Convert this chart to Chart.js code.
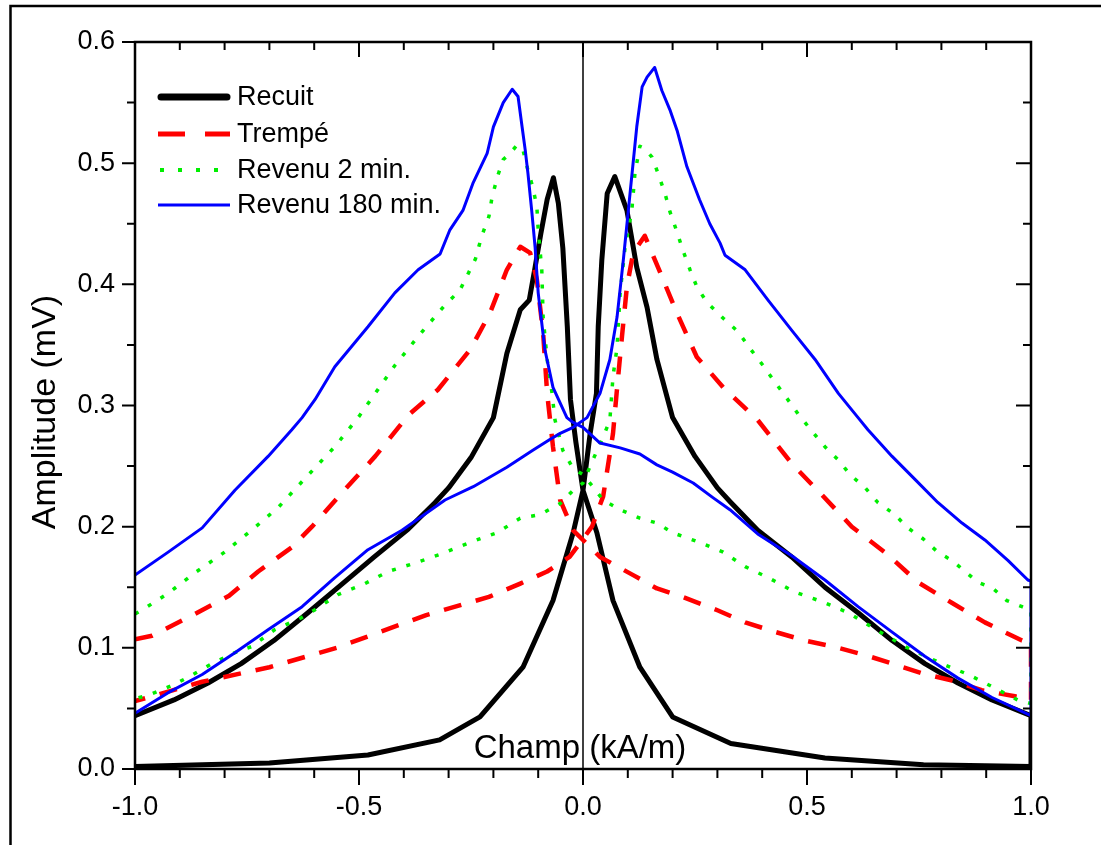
<!DOCTYPE html>
<html><head><meta charset="utf-8">
<script src="https://cdn.jsdelivr.net/npm/chart.js@4.4.0/dist/chart.umd.min.js"></script>
<style>html,body{margin:0;padding:0;background:#fff;}#wrap{position:relative;width:1101px;height:845px;}</style>
</head><body><div id="wrap"><canvas id="c" width="1101" height="845"></canvas></div>
<script>
// ---- DATA ----
const seriesNames = ["Recuit", "Trempé", "Revenu 2 min.", "Revenu 180 min."];
const xMajorTicks = [-1, -0.5, 0, 0.5, 1];
const xMinorTicks = [-0.9, -0.8, -0.7, -0.6, -0.4, -0.3, -0.2, -0.1, 0.1, 0.2, 0.3, 0.4, 0.6, 0.7, 0.8, 0.9];
const yMajorTicks = [0, 0.1, 0.2, 0.3, 0.4, 0.5, 0.6];
const yMinorTicks = [0.05, 0.15, 0.25, 0.35, 0.45, 0.55];
const xTitle = "Champ (kA/m)";
const yTitle = "Amplitude (mV)";

// Each series: branch with peak on negative side (A), then branch with peak on positive side (B)
const recuitA = [[-1,0.044],[-0.913,0.057],[-0.837,0.071],[-0.763,0.087],[-0.69,0.106],[-0.614,0.129],[-0.54,0.152],[-0.466,0.175],[-0.39,0.198],[-0.33,0.22],[-0.3,0.232],[-0.25,0.257],[-0.2,0.29],[-0.17,0.343],[-0.14,0.379],[-0.12,0.387],[-0.107,0.414],[-0.094,0.442],[-0.08,0.47],[-0.066,0.488],[-0.055,0.467],[-0.045,0.43],[-0.035,0.365],[-0.028,0.305],[-0.016,0.27],[0,0.23],[0.031,0.195],[0.067,0.139],[0.127,0.084],[0.2,0.043],[0.33,0.021],[0.54,0.009],[0.76,0.0035],[1,0.002]];
const recuitB = [[1,0.044],[0.913,0.057],[0.837,0.071],[0.763,0.087],[0.69,0.106],[0.614,0.129],[0.54,0.15],[0.466,0.175],[0.39,0.197],[0.33,0.22],[0.3,0.232],[0.25,0.258],[0.2,0.29],[0.165,0.338],[0.143,0.381],[0.12,0.414],[0.098,0.461],[0.071,0.489],[0.054,0.475],[0.042,0.42],[0.034,0.365],[0.03,0.31],[0.016,0.277],[0,0.23],[-0.022,0.195],[-0.067,0.139],[-0.134,0.084],[-0.23,0.043],[-0.32,0.024],[-0.48,0.0115],[-0.7,0.005],[-1,0.002]];

const trempeA = [[-1,0.107],[-0.962,0.11],[-0.866,0.128],[-0.79,0.143],[-0.725,0.163],[-0.65,0.183],[-0.605,0.2],[-0.538,0.228],[-0.464,0.258],[-0.39,0.292],[-0.324,0.313],[-0.252,0.346],[-0.208,0.376],[-0.17,0.412],[-0.14,0.431],[-0.118,0.426],[-0.103,0.404],[-0.089,0.36],[-0.08,0.31],[-0.067,0.266],[-0.051,0.222],[-0.022,0.197],[0,0.189],[0.038,0.175],[0.112,0.16],[0.165,0.149],[0.223,0.142],[0.3,0.131],[0.362,0.121],[0.43,0.113],[0.496,0.106],[0.57,0.1],[0.63,0.094],[0.69,0.087],[0.757,0.079],[0.824,0.073],[0.89,0.065],[0.964,0.06],[1,0.057]];
const trempeB = [[1,0.104],[0.98,0.106],[0.897,0.121],[0.824,0.137],[0.748,0.154],[0.68,0.177],[0.6,0.2],[0.534,0.226],[0.466,0.252],[0.39,0.288],[0.313,0.315],[0.254,0.34],[0.21,0.376],[0.172,0.41],[0.138,0.44],[0.112,0.426],[0.098,0.398],[0.087,0.357],[0.075,0.31],[0.067,0.277],[0.045,0.225],[0.02,0.2],[0,0.19],[-0.03,0.175],[-0.08,0.163],[-0.14,0.153],[-0.21,0.142],[-0.35,0.127],[-0.55,0.1],[-0.7,0.084],[-0.85,0.072],[-1,0.056]];

const revenu2A = [[-1,0.128],[-0.985,0.131],[-0.926,0.145],[-0.866,0.162],[-0.8,0.179],[-0.74,0.197],[-0.68,0.216],[-0.62,0.24],[-0.554,0.266],[-0.5,0.291],[-0.42,0.333],[-0.368,0.357],[-0.308,0.383],[-0.275,0.395],[-0.24,0.421],[-0.226,0.44],[-0.21,0.456],[-0.203,0.472],[-0.19,0.49],[-0.178,0.503],[-0.163,0.508],[-0.147,0.515],[-0.134,0.511],[-0.125,0.497],[-0.112,0.48],[-0.103,0.464],[-0.1,0.445],[-0.092,0.412],[-0.089,0.373],[-0.08,0.338],[-0.069,0.31],[-0.0625,0.288],[-0.045,0.263],[-0.022,0.248],[0,0.243],[0.022,0.233],[0.045,0.222],[0.083,0.214],[0.127,0.207],[0.165,0.203],[0.2,0.195],[0.26,0.187],[0.313,0.179],[0.362,0.167],[0.413,0.158],[0.473,0.146],[0.534,0.138],[0.592,0.129],[0.645,0.117],[0.719,0.101],[0.8,0.087],[0.86,0.078],[0.913,0.068],[0.97,0.057],[1,0.054]];
const revenu2B = [[1,0.131],[0.98,0.134],[0.946,0.139],[0.915,0.149],[0.882,0.154],[0.853,0.163],[0.824,0.172],[0.792,0.179],[0.759,0.19],[0.725,0.199],[0.696,0.21],[0.658,0.22],[0.63,0.232],[0.596,0.243],[0.57,0.255],[0.54,0.266],[0.513,0.278],[0.48,0.293],[0.455,0.306],[0.429,0.319],[0.402,0.333],[0.373,0.347],[0.346,0.361],[0.313,0.372],[0.277,0.385],[0.254,0.398],[0.239,0.412],[0.223,0.428],[0.21,0.443],[0.194,0.46],[0.183,0.475],[0.167,0.492],[0.154,0.505],[0.138,0.512],[0.127,0.514],[0.116,0.492],[0.109,0.461],[0.094,0.431],[0.083,0.393],[0.076,0.348],[0.067,0.324],[0.06,0.288],[0.045,0.274],[0.022,0.255],[0,0.236],[-0.022,0.23],[-0.051,0.219],[-0.096,0.21],[-0.14,0.207],[-0.192,0.195],[-0.245,0.188],[-0.32,0.177],[-0.375,0.17],[-0.435,0.163],[-0.487,0.153],[-0.547,0.144],[-0.6,0.131],[-0.628,0.125],[-0.688,0.115],[-0.74,0.101],[-0.777,0.096],[-0.828,0.087],[-0.88,0.076],[-0.917,0.069],[-0.97,0.061],[-1,0.058]];

const revenu180A = [[-1,0.16],[-0.926,0.179],[-0.85,0.199],[-0.777,0.23],[-0.703,0.258],[-0.65,0.28],[-0.627,0.29],[-0.598,0.305],[-0.554,0.332],[-0.48,0.365],[-0.42,0.393],[-0.368,0.412],[-0.319,0.425],[-0.297,0.445],[-0.268,0.461],[-0.245,0.484],[-0.214,0.508],[-0.2,0.53],[-0.178,0.55],[-0.158,0.561],[-0.145,0.555],[-0.136,0.53],[-0.129,0.511],[-0.123,0.492],[-0.114,0.459],[-0.107,0.431],[-0.1,0.393],[-0.085,0.346],[-0.067,0.315],[-0.036,0.29],[-0.022,0.286],[0,0.282],[0.038,0.269],[0.083,0.265],[0.127,0.26],[0.165,0.251],[0.2,0.245],[0.246,0.236],[0.29,0.224],[0.328,0.214],[0.39,0.194],[0.466,0.176],[0.54,0.156],[0.614,0.134],[0.69,0.113],[0.763,0.093],[0.837,0.075],[0.913,0.059],[1,0.044]];
const revenu180B = [[1,0.155],[0.993,0.156],[0.949,0.172],[0.897,0.189],[0.846,0.203],[0.792,0.22],[0.741,0.239],[0.69,0.258],[0.636,0.28],[0.614,0.29],[0.57,0.31],[0.518,0.338],[0.466,0.362],[0.413,0.387],[0.362,0.412],[0.317,0.424],[0.306,0.434],[0.283,0.45],[0.26,0.47],[0.232,0.497],[0.21,0.527],[0.194,0.544],[0.176,0.56],[0.16,0.579],[0.143,0.571],[0.132,0.563],[0.12,0.53],[0.105,0.475],[0.09,0.42],[0.076,0.373],[0.06,0.338],[0.038,0.31],[0.009,0.29],[-0.022,0.282],[-0.051,0.277],[-0.074,0.272],[-0.112,0.263],[-0.17,0.249],[-0.245,0.233],[-0.308,0.222],[-0.404,0.197],[-0.48,0.181],[-0.554,0.158],[-0.627,0.134],[-0.703,0.115],[-0.777,0.096],[-0.85,0.078],[-0.926,0.063],[-1,0.046]];

// ---- STYLE ----
const FONT = "'Liberation Sans', Arial, sans-serif";
const toPts = arr => arr.map(p => ({x: p[0], y: p[1]}));
const styles = [
  {color: '#000000', width: 5, dash: [], cap: 'round'},
  {color: '#ff0000', width: 4.5, dash: [18, 15], cap: 'butt'},
  {color: '#00ee00', width: 3.5, dash: [4, 11], cap: 'butt'},
  {color: '#0000ff', width: 3, dash: [], cap: 'round'}
];
const branches = [[recuitA, recuitB], [trempeA, trempeB], [revenu2A, revenu2B], [revenu180A, revenu180B]];

const datasets = branches.map((br, i) => ({
  label: seriesNames[i],
  data: toPts(br[0]).concat(toPts(br[1])),
  showLine: true,
  borderColor: styles[i].color,
  backgroundColor: styles[i].color,
  borderWidth: styles[i].width,
  borderDash: styles[i].dash,
  borderCapStyle: styles[i].cap,
  borderJoinStyle: 'round',
  pointRadius: 0,
  tension: 0,
  fill: false,
  order: 4 - i
}));

const decor = {
  id: 'decor',
  beforeDatasetsDraw(chart) {
    const {ctx, chartArea: a, scales: {x}} = chart;
    ctx.save();
    ctx.strokeStyle = '#000'; ctx.lineWidth = 1.5;
    const px = x.getPixelForValue(0);
    ctx.beginPath(); ctx.moveTo(px, a.top); ctx.lineTo(px, a.bottom); ctx.stroke();
    ctx.restore();
  },
  afterDraw(chart) {
    const {ctx, chartArea: a, scales: {x, y}} = chart;
    ctx.save();
    // outer border
    ctx.strokeStyle = '#000'; ctx.lineWidth = 2.5;
    ctx.beginPath(); ctx.moveTo(10.5, 845); ctx.lineTo(10.5, 6); ctx.lineTo(1101, 6); ctx.stroke();
    // frame
    ctx.lineWidth = 2.5;
    ctx.strokeRect(a.left, a.top, a.right - a.left, a.bottom - a.top);
    // ticks
    ctx.lineWidth = 2;
    ctx.beginPath();
    const tx = (v, lb, lt) => {
      const p = x.getPixelForValue(v);
      ctx.moveTo(p, a.bottom); ctx.lineTo(p, a.bottom + lb);
      ctx.moveTo(p, a.top); ctx.lineTo(p, a.top + lt);
    };
    const ty = (v, ll, lr) => {
      const p = y.getPixelForValue(v);
      ctx.moveTo(a.left, p); ctx.lineTo(a.left - ll, p);
      ctx.moveTo(a.right, p); ctx.lineTo(a.right - lr, p);
    };
    xMajorTicks.forEach(v => tx(v, 16, 15));
    xMinorTicks.forEach(v => tx(v, 9, 8));
    yMajorTicks.forEach(v => ty(v, 13, 15));
    yMinorTicks.forEach(v => ty(v, 8, 8));
    ctx.stroke();
    ctx.fillStyle = '#000';
    // y title
    ctx.save();
    ctx.translate(46, 412);
    ctx.rotate(-Math.PI / 2);
    ctx.font = '34px ' + FONT;
    ctx.textAlign = 'center'; ctx.textBaseline = 'middle';
    ctx.fillText(yTitle, 0, 0);
    ctx.restore();
    // x title inside plot
    ctx.font = '33px ' + FONT;
    ctx.textAlign = 'center'; ctx.textBaseline = 'alphabetic';
    ctx.fillText(xTitle, 580, 758);
    // legend
    const rows = [97, 134, 170, 205];
    ctx.font = '27px ' + FONT;
    ctx.textAlign = 'left'; ctx.textBaseline = 'middle';
    const lstyles = [
      {w: 7, dash: [], cap: 'round', x0: 161, x1: 227},
      {w: 5, dash: [27, 20], cap: 'butt', x0: 158, x1: 230},
      {w: 4, dash: [4, 14], cap: 'butt', x0: 160, x1: 230},
      {w: 3, dash: [], cap: 'butt', x0: 158, x1: 230}
    ];
    seriesNames.forEach((n, i) => {
      const s = lstyles[i];
      ctx.save();
      ctx.strokeStyle = styles[i].color; ctx.lineWidth = s.w; ctx.setLineDash(s.dash); ctx.lineCap = s.cap;
      ctx.beginPath(); ctx.moveTo(s.x0, rows[i]); ctx.lineTo(s.x1, rows[i]); ctx.stroke();
      ctx.restore();
      ctx.fillText(n, 237, rows[i] + 1);
    });
    ctx.restore();
  }
};

new Chart(document.getElementById('c'), {
  type: 'scatter',
  data: {datasets},
  options: {
    responsive: false,
    animation: false,
    devicePixelRatio: 1,
    layout: {padding: {left: 0, top: 42, right: 70, bottom: 0}},
    plugins: {legend: {display: false}, tooltip: {enabled: false}},
    scales: {
      x: {
        type: 'linear', min: -1, max: 1,
        afterFit: s => { s.height = 76; },
        afterBuildTicks: s => { s.ticks = xMajorTicks.map(v => ({value: v})); },
        ticks: {color: '#000', font: {family: FONT, size: 27}, padding: 22, maxRotation: 0,
          callback: v => Number(v).toFixed(1)},
        grid: {display: false, drawTicks: false},
        border: {display: false}
      },
      y: {
        type: 'linear', min: 0, max: 0.6,
        afterFit: s => { s.width = 135; },
        afterBuildTicks: s => { s.ticks = yMajorTicks.map(v => ({value: v})); },
        ticks: {color: '#000', font: {family: FONT, size: 27}, padding: 20,
          callback: v => Number(v).toFixed(1)},
        grid: {display: false, drawTicks: false},
        border: {display: false}
      }
    }
  },
  plugins: [decor]
});
</script>
</body></html>
